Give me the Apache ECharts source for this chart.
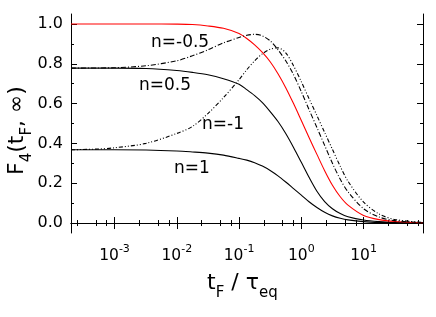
<!DOCTYPE html>
<html>
<head>
<meta charset="utf-8">
<script src="https://cdn.jsdelivr.net/npm/echarts@6/dist/echarts.min.js"></script>
<style>
html,body{margin:0;padding:0;background:#fff;}
#chart{width:436px;height:317px;}
</style>
</head>
<body>
<div id="chart"></div>
<script>
// t_F / tau_eq sample points (shared by all curves)
var tValues = [2.0e-4, 5.6e-4, 1e-3, 3.2e-3, 0.01, 0.0178, 0.0316, 0.0562, 0.1, 0.133, 0.178, 0.237, 0.316, 0.422, 0.562, 0.75, 1, 1.33, 1.78, 2.37, 3.16, 4.22, 5.62, 10, 17.8, 31.6, 89];

var nZero    = [1.0, 1.0, 1.0, 1.0, 0.999, 0.997, 0.99, 0.978, 0.952, 0.927, 0.895, 0.857, 0.81, 0.75, 0.68, 0.60, 0.515, 0.43, 0.345, 0.263, 0.19, 0.132, 0.09, 0.038, 0.017, 0.008, 0.002];
var nHalf    = [0.778, 0.778, 0.778, 0.776, 0.766, 0.757, 0.745, 0.725, 0.697, 0.67, 0.64, 0.605, 0.56, 0.51, 0.45, 0.38, 0.305, 0.23, 0.16, 0.108, 0.072, 0.048, 0.032, 0.015, 0.007, 0.003, 0.001];
var nOne     = [0.368, 0.368, 0.368, 0.367, 0.362, 0.357, 0.351, 0.341, 0.325, 0.316, 0.303, 0.286, 0.264, 0.237, 0.206, 0.173, 0.14, 0.107, 0.078, 0.054, 0.036, 0.024, 0.016, 0.007, 0.003, 0.002, 0.0005];
var nMinHalf = [0.778, 0.779, 0.78, 0.79, 0.815, 0.84, 0.87, 0.905, 0.932, 0.943, 0.948, 0.94, 0.915, 0.87, 0.815, 0.745, 0.66, 0.57, 0.48, 0.39, 0.30, 0.22, 0.157, 0.072, 0.03, 0.012, 0.002];
var nMinOne  = [0.368, 0.372, 0.378, 0.40, 0.45, 0.485, 0.55, 0.63, 0.72, 0.77, 0.815, 0.85, 0.873, 0.88, 0.855, 0.79, 0.71, 0.625, 0.54, 0.455, 0.37, 0.285, 0.21, 0.105, 0.045, 0.018, 0.003];

var xMajorTicks = [1e-3, 1e-2, 1e-1, 1, 10];
var xMinorTicks = [2.5e-4, 5e-4, 7.5e-4, 2.5e-3, 5e-3, 7.5e-3, 2.5e-2, 5e-2, 7.5e-2, 0.25, 0.5, 0.75, 2.5, 5, 7.5, 25, 50, 75];
var yMajorTicks = [0, 0.2, 0.4, 0.6, 0.8, 1.0];
var yMinorTicks = [0.1, 0.3, 0.5, 0.7, 0.9];

var labels = [
  {text: 'n=-0.5', x: 151, y: 43},
  {text: 'n=0.5', x: 139, y: 86},
  {text: 'n=-1', x: 202, y: 125},
  {text: 'n=1', x: 174, y: 169}
];
var xTitle = '{m|t}{s|F}{m| / τ}{s|eq}';
var yTitle = '{m|F}{s|4}{m|(t}{s|F}{m|, ∞)}';

function pairs(ys) { return tValues.map(function (t, i) { return [t, ys[i]]; }); }

var FONT = "'DejaVu Sans', sans-serif";
var chart = echarts.init(document.getElementById('chart'), null, {renderer: 'canvas'});

function xAxisDef(pos, major, showLabel) {
  return {
    type: 'log', logBase: 10, min: 2e-4, max: 90, position: pos, gridIndex: 0,
    axisLine: {show: major, lineStyle: {color: '#000', width: 1}},
    axisTick: {show: true, inside: true, length: major ? 6 : 3, lineStyle: {color: '#000', width: 1},
               customValues: major ? xMajorTicks : xMinorTicks},
    axisLabel: {show: showLabel, customValues: xMajorTicks, margin: 11, color: '#000', fontFamily: FONT,
      formatter: function (v) { var e = Math.round(Math.log10(v)); return '{b|10}{s|' + e + '}'; },
      rich: {b: {fontSize: 15.5, lineHeight: 24, fontFamily: FONT, color: '#000'},
             s: {fontSize: 11, lineHeight: 12, verticalAlign: 'top', fontFamily: FONT, color: '#000'}}},
    splitLine: {show: false}
  };
}
function yAxisDef(pos, major, showLabel) {
  return {
    type: 'value', min: -0.05, max: 1.05, position: pos, gridIndex: 0,
    axisLine: {show: major, lineStyle: {color: '#000', width: 1}},
    axisTick: {show: true, inside: true, length: major ? 6 : 3, lineStyle: {color: '#000', width: 1},
               customValues: major ? yMajorTicks : yMinorTicks},
    axisLabel: {show: showLabel, customValues: yMajorTicks, margin: 8, color: '#000', fontSize: 16, fontFamily: FONT,
      formatter: function (v) { return v.toFixed(1); }},
    splitLine: {show: false}
  };
}

function lineSeries(name, ys, color, dash) {
  return {
    name: name, type: 'line', data: pairs(ys), xAxisIndex: 0, yAxisIndex: 0,
    showSymbol: false, smooth: 0.3, silent: true,
    lineStyle: {color: color, width: 1.1, type: dash || 'solid'}
  };
}

var titleRich = {
  m: {fontSize: 22, lineHeight: 36, fontFamily: FONT, fill: '#000'},
  s: {fontSize: 15, lineHeight: 15, verticalAlign: 'bottom', fontFamily: FONT, fill: '#000'}
};

var graphics = labels.map(function (l) {
  return {type: 'text', x: l.x, y: l.y, silent: true,
    style: {text: l.text, font: '17px ' + FONT, fill: '#000', verticalAlign: 'middle', align: 'left'}};
});
graphics.push({type: 'text', x: 207, y: 283, silent: true,
  style: {text: xTitle, rich: titleRich, align: 'left', verticalAlign: 'middle', fill: '#000'}});
graphics.push({type: 'text', x: 17, y: 175, rotation: Math.PI / 2, silent: true,
  style: {text: yTitle, rich: titleRich, align: 'left', verticalAlign: 'middle', fill: '#000'}});

chart.setOption({
  backgroundColor: '#fff',
  animation: false,
  grid: {left: 71, right: 13, top: 14, bottom: 84, containLabel: false},
  xAxis: [
    xAxisDef('bottom', true, true),
    xAxisDef('top', true, false),
    xAxisDef('bottom', false, false),
    xAxisDef('top', false, false)
  ],
  yAxis: [
    yAxisDef('left', true, true),
    yAxisDef('right', true, false),
    yAxisDef('left', false, false),
    yAxisDef('right', false, false)
  ],
  series: [
    lineSeries('n=1', nOne, '#000'),
    lineSeries('n=0.5', nHalf, '#000'),
    lineSeries('n=0', nZero, '#ff0000'),
    lineSeries('n=-0.5', nMinHalf, '#000', [5, 2, 1, 2]),
    lineSeries('n=-1', nMinOne, '#000', [4, 2, 1, 2, 1, 2])
  ],
  graphic: graphics
});
</script>
</body>
</html>
